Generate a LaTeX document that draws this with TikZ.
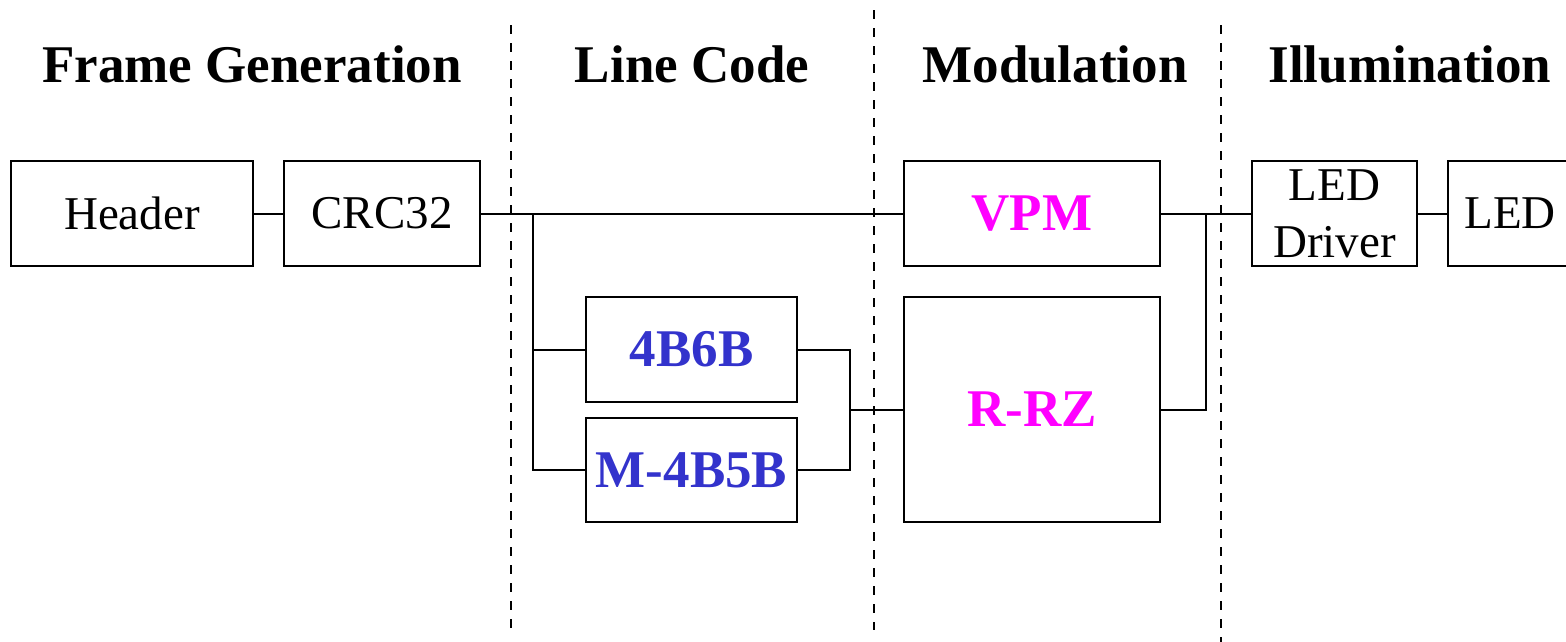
\documentclass[tikz,border=0pt]{standalone}
\usepackage{fontspec}
\setmainfont{Liberation Serif}
\definecolor{codeblue}{RGB}{51,51,204}
\definecolor{modmag}{RGB}{255,0,255}
\tikzset{
  blk/.style={draw=black, line width=2.5pt, inner sep=0pt, align=center,
    font=\fontsize{47}{57}\selectfont},
  bblk/.style={blk, font=\fontsize{53}{60}\selectfont\bfseries},
  conn/.style={draw=black, line width=2pt},
  sep/.style={draw=black, line width=2pt, dash pattern=on 9pt off 9pt},
  head/.style={anchor=base, inner sep=0pt, font=\fontsize{53}{60}\selectfont\bfseries}
}
\begin{document}
\begin{tikzpicture}[x=1pt,y=-1pt]
\useasboundingbox (0,0) rectangle (1566,641);
\clip (0,0) rectangle (1566,641);
% headings
\node[head] (h1) at (252,82) {Frame Generation};
\node[head] (h2) at (692,82) {Line Code};
\node[head] (h3) at (1055,82) {Modulation};
\node[head] (h4) at (1410,82) {Illumination};
% separators
\coordinate (s1t) at (511,25);  \coordinate (s1b) at (511,630);
\coordinate (s2t) at (874,10);  \coordinate (s2b) at (874,630);
\coordinate (s3t) at (1221,25); \coordinate (s3b) at (1221,645);
\draw[sep] (s1t) -- (s1b);
\draw[sep] (s2t) -- (s2b);
\draw[sep] (s3t) -- (s3b);
% blocks
\node[blk, minimum width=242, minimum height=105] (hdr) at (132,213.5) {Header};
\node[blk, minimum width=196, minimum height=105] (crc) at (382,213.5) {CRC32};
\node[bblk, text=modmag, minimum width=256, minimum height=105] (vpm) at (1032,213.5) {VPM};
\node[bblk, text=codeblue, minimum width=211, minimum height=105] (b46) at (691.5,349.5) {4B6B};
\node[bblk, text=codeblue, minimum width=211, minimum height=104] (m45) at (691.5,470) {M-4B5B};
\node[bblk, text=modmag, minimum width=256, minimum height=225] (rrz) at (1032,409.5) {R-RZ};
\node[blk, minimum width=165, minimum height=105] (ledd) at (1334.5,213.5) {LED\\Driver};
\node[blk, minimum width=124, minimum height=105] (led) at (1510,213.5) {LED};
% junctions
\coordinate (j1) at (533,213.5);
\coordinate (j2) at (850,409.5);
\coordinate (j3) at (1206,213.5);
% connectors
\draw[conn] (hdr.east) -- (crc.west);
\draw[conn] (crc.east) -- (vpm.west);
\draw[conn] (j1) -- (j1 |- m45.west) -- (m45.west);
\draw[conn] (j1 |- b46.west) -- (b46.west);
\draw[conn] (b46.east) -| (j2);
\draw[conn] (m45.east) -| (j2);
\draw[conn] (j2) -- (rrz.west);
\draw[conn] (vpm.east) -- (ledd.west);
\draw[conn] (rrz.east) -| (j3);
\draw[conn] (ledd.east) -- (led.west);
\end{tikzpicture}
\end{document}
